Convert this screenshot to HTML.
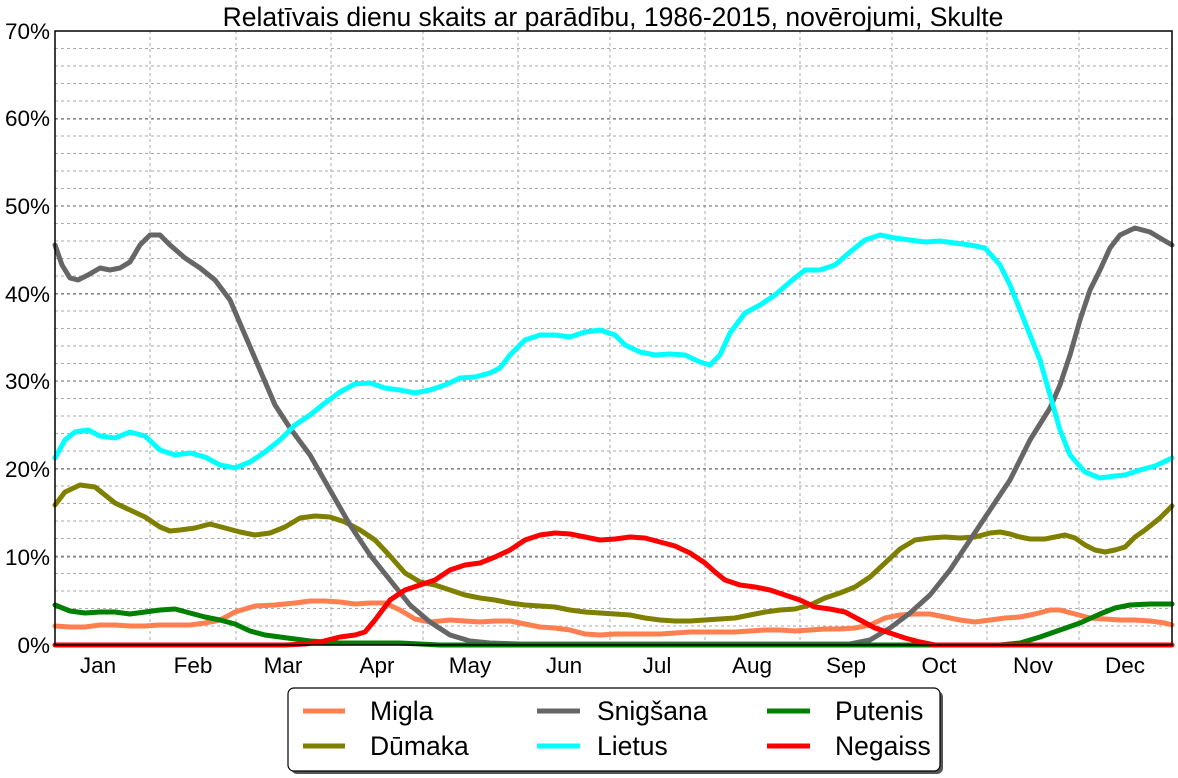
<!DOCTYPE html>
<html><head><meta charset="utf-8"><style>
body{margin:0;background:#fff}
svg{display:block;font-family:"Liberation Sans",sans-serif}
</style></head><body>
<svg width="1178" height="778" xmlns="http://www.w3.org/2000/svg">
<rect width="1178" height="778" fill="#fff"/>
<text x="613" y="26" font-size="26.5" text-anchor="middle">Relatīvais dienu skaits ar parādību, 1986-2015, novērojumi, Skulte</text>
<g stroke="#aaa" stroke-width="1" stroke-dasharray="3,3" fill="none">
<path d="M55 48.5H1172M55 66H1172M55 83.5H1172M55 101H1172M55 118.5H1172M55 136H1172M55 153.5H1172M55 171H1172M55 188.5H1172M55 206H1172M55 223.5H1172M55 241H1172M55 258.5H1172M55 276H1172M55 293.5H1172M55 311H1172M55 328.5H1172M55 346H1172M55 363.5H1172M55 381H1172M55 398.5H1172M55 416H1172M55 433.5H1172M55 451H1172M55 468.5H1172M55 486H1172M55 503.5H1172M55 521H1172M55 538.5H1172M55 556H1172M55 573.5H1172M55 591H1172M55 608.5H1172M55 626H1172"/>
<path d="M150 31V645M236 31V645M331 31V645M423 31V645M518 31V645M610 31V645M705 31V645M800 31V645M892 31V645M987 31V645M1079 31V645"/>
</g>
<g stroke="#666" stroke-dasharray="3,3" stroke-width="1"><path d="M55 119H1172M55 206H1172M55 294H1172M55 381H1172M55 469H1172M55 557H1172"/></g>
<g font-size="22.5" text-anchor="end">
<text x="50" y="39">70%</text><text x="50" y="126">60%</text><text x="50" y="214">50%</text><text x="50" y="302">40%</text><text x="50" y="389">30%</text><text x="50" y="477">20%</text><text x="50" y="565">10%</text><text x="50" y="653">0%</text>
</g>
<g font-size="22.5" text-anchor="middle">
<text x="98" y="673">Jan</text><text x="193" y="673">Feb</text><text x="283" y="673">Mar</text><text x="377" y="673">Apr</text><text x="470" y="673">May</text><text x="564" y="673">Jun</text><text x="657" y="673">Jul</text><text x="752" y="673">Aug</text><text x="846" y="673">Sep</text><text x="939" y="673">Oct</text><text x="1033" y="673">Nov</text><text x="1125" y="673">Dec</text>
</g>
<g fill="none" stroke-width="5" stroke-linejoin="round" stroke-linecap="round">
<polyline stroke="#ff7f50" points="55,626 70,627 85,627 100,625 115,625 130,626 145,626 160,625 175,625 190,625 205,623 220,620 235,612 255,606 275,605 295,603 310,601 325,601 340,602 355,604 370,603 385,603 400,610 415,619 430,622 450,620 465,621 480,622 495,621 510,621 525,624 540,627 555,628 570,630 585,634 600,635 615,634 630,634 645,634 660,634 675,633 690,632 705,632 720,632 735,632 750,631 765,630 780,630 795,631 810,630 825,629 840,629 855,628 870,625 885,618 900,615 915,614 930,614 945,617 960,620 975,622 990,620 1005,618 1020,617 1035,614 1050,610 1060,610 1075,614 1090,618 1105,619 1120,620 1135,620 1150,621 1165,623 1172,625"/>
<polyline stroke="#808000" points="55,505 65,492 80,485 95,487 105,495 115,503 130,510 145,517 160,527 170,531 180,530 195,528 210,524 225,528 240,532 255,535 270,533 285,527 300,518 315,516 330,517 345,522 360,530 375,540 390,556 405,573 420,582 435,585 450,590 465,595 480,598 495,600 510,603 525,605 540,606 555,607 570,610 585,612 600,613 615,614 630,615 645,618 660,620 675,621 690,621 705,620 720,619 735,618 750,615 765,612 780,610 795,609 810,605 825,598 840,593 855,587 870,577 885,563 900,549 915,540 930,538 945,537 960,538 975,537 990,533 1000,532 1010,534 1020,537 1030,539 1045,539 1055,537 1065,535 1075,538 1085,545 1095,550 1105,552 1115,550 1125,547 1135,537 1145,530 1160,518 1172,506"/>
<polyline stroke="#666666" points="55,245 62,265 70,278 78,280 88,275 100,268 110,270 120,268 130,262 140,245 150,235 160,235 170,245 185,258 200,268 215,280 230,300 245,335 260,370 275,405 290,428 310,455 330,490 350,525 370,555 390,580 410,605 430,622 450,635 470,641 490,643 520,644 850,644 870,640 890,628 910,613 930,595 950,570 970,540 990,510 1010,480 1020,460 1030,440 1050,408 1060,385 1070,355 1080,320 1090,290 1100,270 1110,248 1120,235 1135,228 1150,232 1160,238 1172,245"/>
<polyline stroke="#00ffff" points="55,458 65,440 75,432 88,430 100,436 115,438 130,432 145,436 160,450 175,455 190,453 205,457 220,465 235,468 250,462 265,452 280,440 295,425 310,415 325,403 340,392 355,384 370,383 385,388 400,390 415,393 430,390 445,385 460,378 475,377 490,373 500,368 510,355 525,340 540,335 555,335 570,337 585,332 600,330 615,335 625,345 640,352 655,355 670,354 685,355 700,362 710,365 720,355 730,333 745,313 760,305 775,295 790,282 805,270 820,270 835,265 850,252 865,240 880,235 895,238 910,240 925,242 940,241 955,243 970,245 985,248 1000,265 1010,285 1020,310 1030,335 1040,360 1050,395 1060,430 1070,455 1085,472 1100,478 1115,476 1125,475 1140,470 1155,466 1172,458"/>
<polyline stroke="#008000" points="55,605 70,611 85,613 100,612 115,612 130,614 145,612 160,610 175,609 190,613 205,617 220,620 235,624 250,631 265,635 280,637 295,639 310,641 325,642 340,643 360,643 400,643 440,645 1000,645 1020,643 1040,637 1060,630 1080,623 1100,614 1115,608 1130,605 1150,604 1172,604"/>
<polyline stroke="#ff0000" points="55,645 285,645 305,644 320,642 340,637 355,635 365,632 375,620 390,600 405,590 420,585 435,580 450,570 465,565 480,563 495,557 510,550 525,540 540,535 555,533 570,534 585,537 600,540 615,539 630,537 645,538 660,542 675,546 690,553 705,563 715,572 725,580 740,585 755,587 770,590 785,595 800,600 815,607 830,609 845,612 860,620 875,628 890,633 905,638 920,642 935,645 1172,645"/>
</g>
<rect x="55" y="31" width="1117" height="614" fill="none" stroke="#000" stroke-width="1.5"/>
<rect x="291" y="691" width="652" height="83" rx="6" fill="#555"/>
<rect x="288" y="688" width="652" height="83" rx="6" fill="#fff" stroke="#000" stroke-width="1.2"/>
<g stroke-width="5">
<line x1="303" y1="711" x2="345" y2="711" stroke="#ff7f50"/>
<line x1="303" y1="746" x2="345" y2="746" stroke="#808000"/>
<line x1="537" y1="711" x2="580" y2="711" stroke="#666"/>
<line x1="537" y1="746" x2="580" y2="746" stroke="#00ffff"/>
<line x1="767" y1="711" x2="810" y2="711" stroke="#008000"/>
<line x1="767" y1="746" x2="810" y2="746" stroke="#ff0000"/>
</g>
<g font-size="26.5">
<text x="370" y="720">Migla</text><text x="370" y="755">Dūmaka</text>
<text x="597" y="720">Snigšana</text><text x="597" y="755">Lietus</text>
<text x="835" y="720">Putenis</text><text x="835" y="755">Negaiss</text>
</g>
</svg>
</body></html>
